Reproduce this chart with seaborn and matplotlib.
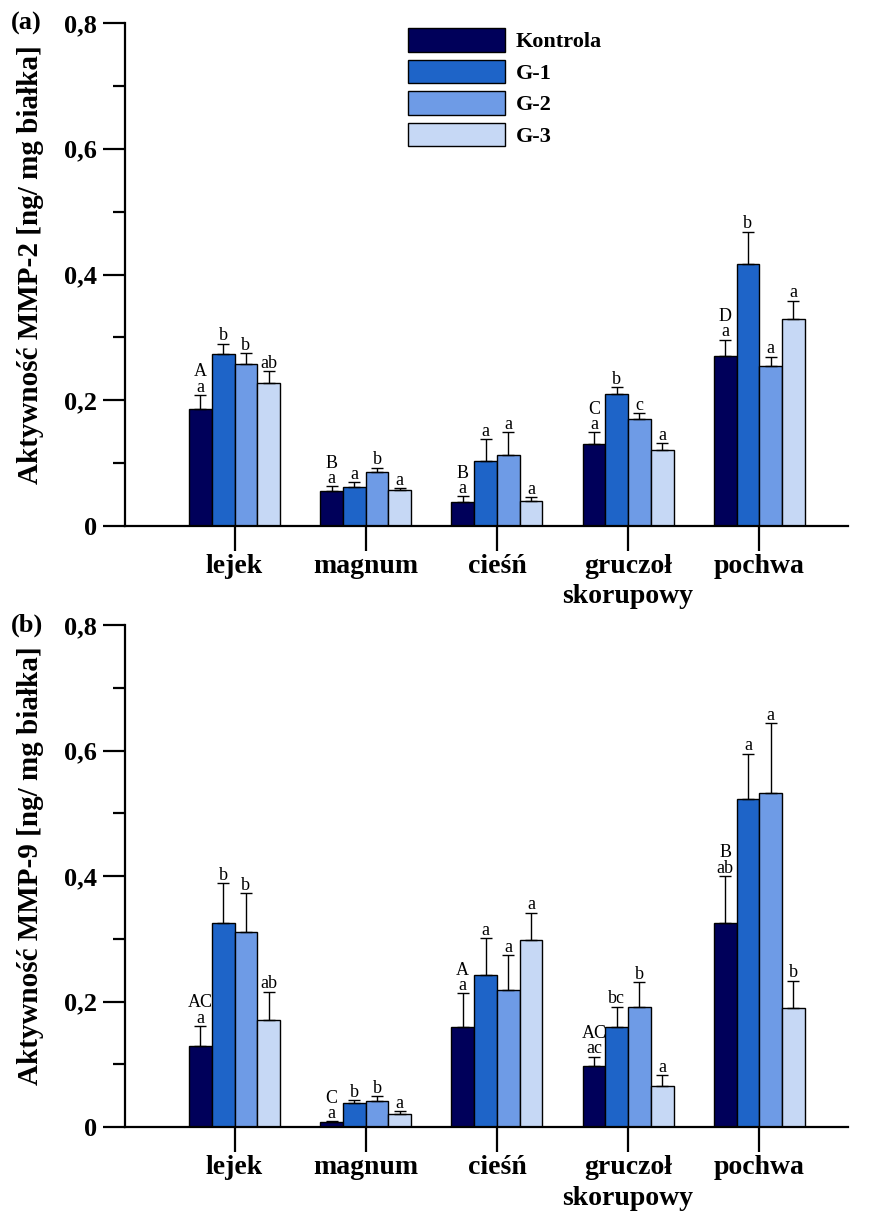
import numpy as np
import pandas as pd
import seaborn as sns
import matplotlib.pyplot as plt
from matplotlib.ticker import MultipleLocator, FuncFormatter

# sites and groups
sites = ['lejek', 'magnum', 'cieśń', 'gruczoł\nskorupowy', 'pochwa']
groups = ['Kontrola', 'G-1', 'G-2', 'G-3']
colors = ['#00005a', '#1e64c8', '#6e9be6', '#c6d8f5']

# MMP-2 (panel a): mean values per group, one entry per site
mmp2_kontrola = [0.186, 0.056, 0.038, 0.131, 0.271]
mmp2_g1 = [0.273, 0.062, 0.104, 0.210, 0.417]
mmp2_g2 = [0.257, 0.086, 0.113, 0.170, 0.255]
mmp2_g3 = [0.228, 0.058, 0.040, 0.121, 0.329]
mmp2_err_kontrola = [0.022, 0.007, 0.009, 0.018, 0.025]
mmp2_err_g1 = [0.017, 0.008, 0.034, 0.011, 0.051]
mmp2_err_g2 = [0.018, 0.007, 0.036, 0.009, 0.014]
mmp2_err_g3 = [0.018, 0.002, 0.006, 0.011, 0.029]
mmp2_low = [['a', 'b', 'b', 'ab'], ['a', 'a', 'b', 'a'], ['a', 'a', 'a', 'a'],
            ['a', 'b', 'c', 'a'], ['a', 'b', 'a', 'a']]
mmp2_up = ['A', 'B', 'B', 'C', 'D']

# MMP-9 (panel b)
mmp9_kontrola = [0.130, 0.008, 0.159, 0.098, 0.326]
mmp9_g1 = [0.325, 0.039, 0.242, 0.160, 0.523]
mmp9_g2 = [0.311, 0.041, 0.218, 0.191, 0.533]
mmp9_g3 = [0.170, 0.021, 0.298, 0.065, 0.189]
mmp9_err_kontrola = [0.031, 0.001, 0.054, 0.014, 0.074]
mmp9_err_g1 = [0.064, 0.004, 0.059, 0.032, 0.072]
mmp9_err_g2 = [0.062, 0.008, 0.056, 0.040, 0.111]
mmp9_err_g3 = [0.046, 0.004, 0.044, 0.018, 0.044]
mmp9_low = [['a', 'b', 'b', 'ab'], ['a', 'b', 'b', 'a'], ['a', 'a', 'a', 'a'],
            ['ac', 'bc', 'b', 'a'], ['ab', 'a', 'a', 'b']]
mmp9_up = ['AC', 'C', 'A', 'AC', 'B']

panels = [
    ('(a)', 'Aktywność MMP-2 [ng/ mg białka]',
     [mmp2_kontrola, mmp2_g1, mmp2_g2, mmp2_g3],
     [mmp2_err_kontrola, mmp2_err_g1, mmp2_err_g2, mmp2_err_g3],
     mmp2_low, mmp2_up),
    ('(b)', 'Aktywność MMP-9 [ng/ mg białka]',
     [mmp9_kontrola, mmp9_g1, mmp9_g2, mmp9_g3],
     [mmp9_err_kontrola, mmp9_err_g1, mmp9_err_g2, mmp9_err_g3],
     mmp9_low, mmp9_up),
]

sns.set_style('ticks')
plt.rcParams['font.family'] = ['Liberation Serif', 'DejaVu Serif']
plt.rcParams['text.color'] = 'black'
plt.rcParams['xtick.color'] = 'black'
plt.rcParams['ytick.color'] = 'black'
plt.rcParams['axes.labelcolor'] = 'black'
plt.rcParams['axes.edgecolor'] = 'black'

fig = plt.figure(figsize=(8.8, 12.12), dpi=100)
axes = [fig.add_axes([0.142, 0.566, 0.8216, 0.415]),
        fig.add_axes([0.142, 0.0701, 0.8216, 0.414])]

for i, (ax, (tag, ylabel, vals, errs, low, up)) in enumerate(zip(axes, panels)):
    rows = []
    for g, v in zip(groups, vals):
        for s, x in zip(sites, v):
            rows.append({'site': s, 'group': g, 'value': x})
    df = pd.DataFrame(rows)

    sns.barplot(data=df, x='site', y='value', hue='group', order=sites,
                hue_order=groups, palette=colors, saturation=1,
                edgecolor='black', linewidth=1.0, width=0.694,
                errorbar=None, ax=ax, legend=(i == 0))

    # error bars (upward only) and significance letters
    bar_conts = list(ax.containers)
    for gi, cont in enumerate(bar_conts):
        xs = [p.get_x() + p.get_width() / 2 for p in cont.patches]
        hs = [p.get_height() for p in cont.patches]
        e = errs[gi]
        ax.errorbar(xs, hs, yerr=[np.zeros(len(e)), e], fmt='none',
                    ecolor='black', elinewidth=1.0, capsize=4.5,
                    capthick=1.0, zorder=3)
        for si, (x, h) in enumerate(zip(xs, hs)):
            top = h + e[si]
            ax.annotate(low[si][gi], (x, top), xytext=(0, 2.5),
                        textcoords='offset points', ha='center',
                        va='baseline', fontsize=13)
            if gi == 0:
                ax.annotate(up[si], (x, top), xytext=(0, 13.5),
                            textcoords='offset points', ha='center',
                            va='baseline', fontsize=13)

    ax.set_ylim(0, 0.8)
    ax.set_xlim(-0.835, 4.676)
    ax.yaxis.set_major_locator(MultipleLocator(0.2))
    ax.yaxis.set_minor_locator(MultipleLocator(0.1))
    ax.yaxis.set_major_formatter(
        FuncFormatter(lambda v, p: '0' if abs(v) < 1e-9 else f'{v:.1f}'.replace('.', ',')))
    for s in ['top', 'right']:
        ax.spines[s].set_visible(False)
    for s in ['left', 'bottom']:
        ax.spines[s].set_linewidth(1.6)
    ax.tick_params(axis='y', which='major', length=16, width=1.6, pad=4,
                   labelsize=19)
    ax.tick_params(axis='y', which='minor', length=9, width=1.6)
    ax.tick_params(axis='x', which='major', length=18, width=1.6, pad=2,
                   labelsize=20)
    for lab in ax.get_xticklabels() + ax.get_yticklabels():
        lab.set_fontweight('bold')
    for lab in ax.get_xticklabels():
        lab.set_linespacing(1.3)
    ax.set_xlabel('')
    ax.set_ylabel(ylabel, fontsize=21, fontweight='bold')
    ax.yaxis.set_label_coords(-0.112, 0.52)
    ax.text(-0.158, 1.0, tag, transform=ax.transAxes, fontsize=19,
            fontweight='bold', ha='left', va='center')

    if i == 0:
        ax.legend(loc='upper left', bbox_to_anchor=(0.391, 0.99), frameon=False,
                  handlelength=4.37, handleheight=1.25, labelspacing=0.33,
                  handletextpad=0.5, borderpad=0, borderaxespad=0,
                  prop={'weight': 'bold', 'size': 16})

fig.savefig('out.png', dpi=100)
